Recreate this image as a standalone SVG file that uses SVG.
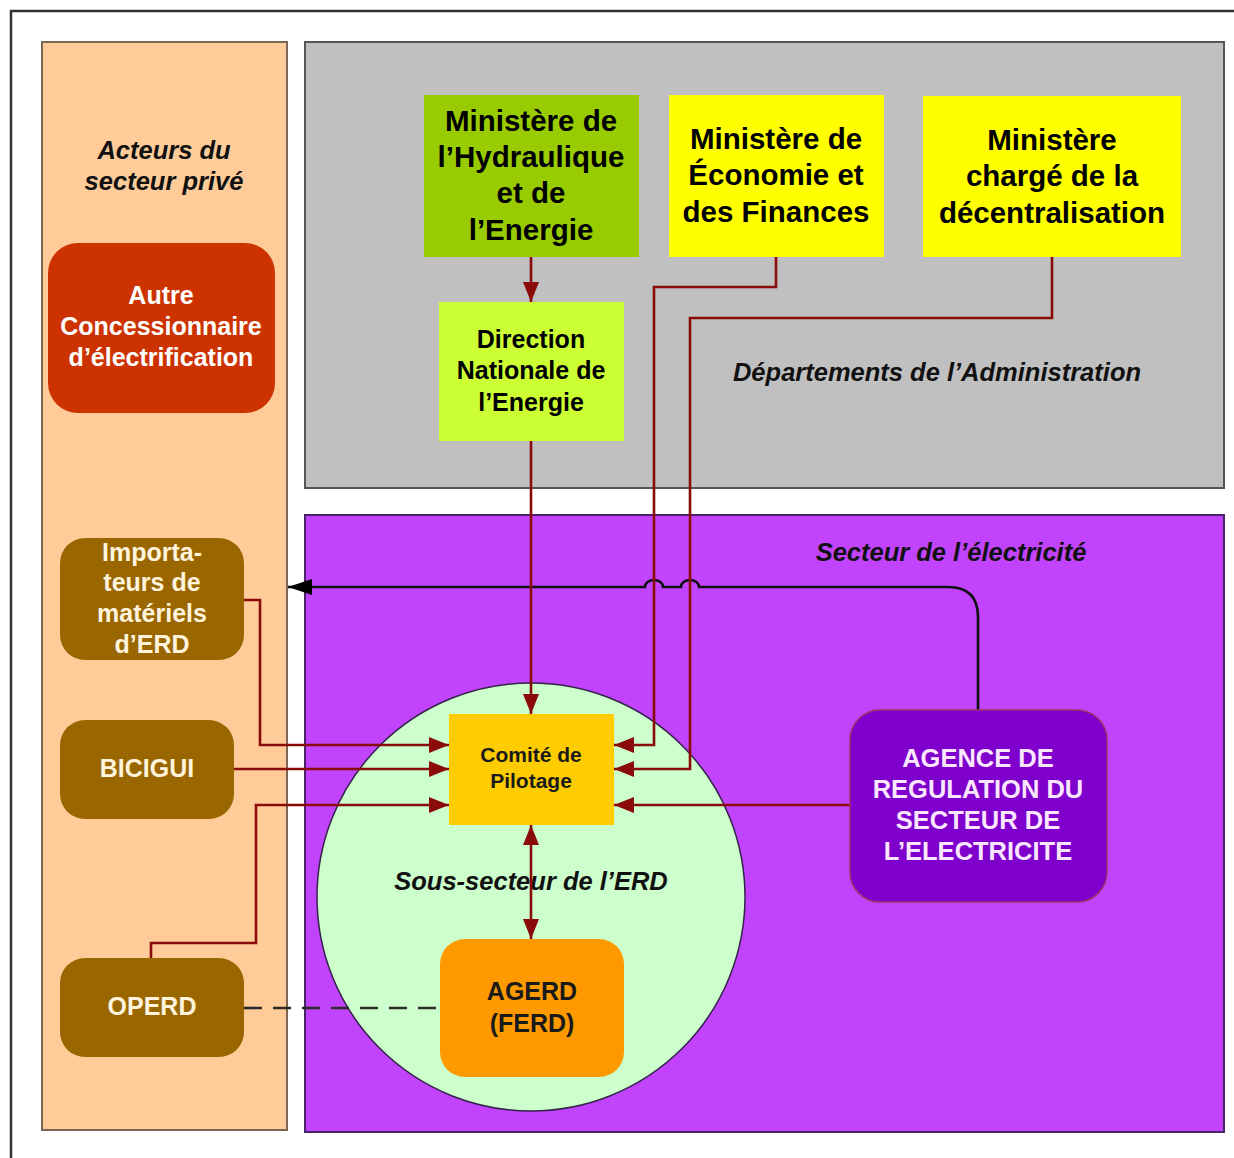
<svg xmlns="http://www.w3.org/2000/svg" width="1234" height="1158" viewBox="0 0 1234 1158">
<defs>
<style>
text{font-family:"Liberation Sans",Arial,sans-serif;font-weight:bold;text-anchor:middle}
.min{font-size:29.5px;fill:#000}
.lbl{font-size:25.5px;fill:#111;font-style:italic}
.w{font-size:25px;fill:#fff}
.cr{font-size:25px;fill:#fff3dc}
.pk{font-size:25.5px;fill:#fbe6ff}
.dk{font-size:25px;fill:#1a1a1a}
.red{fill:none;stroke:#8b0a0a;stroke-width:2.6}
.blk{fill:none;stroke:#111;stroke-width:2.6}
</style>
<marker id="ar" markerUnits="userSpaceOnUse" markerWidth="22" markerHeight="18" refX="20" refY="8" orient="auto-start-reverse" viewBox="0 0 22 18">
<path d="M0,0 L20,8 L0,16 z" fill="#8b0a0a"/>
</marker>
<marker id="ab" markerUnits="userSpaceOnUse" markerWidth="26" markerHeight="18" refX="24" refY="8" orient="auto" viewBox="0 0 26 18">
<path d="M0,0 L24,8 L0,16 z" fill="#000"/>
</marker>
</defs>
<rect width="1234" height="1158" fill="#fff"/>
<rect x="11" y="11" width="1250" height="1170" fill="none" stroke="#333" stroke-width="2.5"/>

<g id="panel-prive">
<rect x="42" y="42" width="245" height="1088" fill="#ffcc99" stroke="#7a6656" stroke-width="2"/>
<text class="lbl" x="164" y="159">Acteurs du</text>
<text class="lbl" x="164" y="190">secteur privé</text>
</g>
<g id="panel-admin">
<rect x="305" y="42" width="919" height="446" fill="#c0c0c0" stroke="#555" stroke-width="2"/>
<text class="lbl" x="937" y="381">Départements de l’Administration</text>
</g>
<g id="panel-elec">
<rect x="305" y="515" width="919" height="617" fill="#c143fc" stroke="#4a2366" stroke-width="2"/>
<text class="lbl" x="951" y="561">Secteur de l’électricité</text>
</g>
<g id="sous-secteur">
<circle cx="531" cy="897" r="214" fill="#ccffcc" stroke="#33224a" stroke-width="1.5"/>
<text class="lbl" x="531" y="890">Sous-secteur de l’ERD</text>
</g>

<g id="connectors">
<path class="blk" d="M978,710 L978,617 Q978,587 948,587 L699,587 a9,7 0 0 0 -18,0 L663,587 a9,7 0 0 0 -18,0 L288,587" marker-end="url(#ab)"/>
<path class="red" d="M531,257 L531,302" marker-end="url(#ar)"/>
<path class="red" d="M531,441 L531,714" marker-end="url(#ar)"/>
<path class="red" d="M776,257 L776,287 L654,287 L654,745 L614,745" marker-end="url(#ar)"/>
<path class="red" d="M1052,257 L1052,318 L690,318 L690,769 L614,769" marker-end="url(#ar)"/>
<path class="red" d="M244,600 L260,600 L260,745 L449,745" marker-end="url(#ar)"/>
<path class="red" d="M234,769 L449,769" marker-end="url(#ar)"/>
<path class="red" d="M151,958 L151,943 L256,943 L256,805 L449,805" marker-end="url(#ar)"/>
<path class="red" d="M850,805 L614,805" marker-end="url(#ar)"/>
<path class="red" d="M531,825 L531,939" marker-start="url(#ar)" marker-end="url(#ar)"/>
<path d="M244,1008 L440,1008" fill="none" stroke="#2a2a2a" stroke-width="2.6" stroke-dasharray="18,11"/>
</g>

<g id="min-hydraulique">
<rect x="424" y="95" width="215" height="162" fill="#99cc00"/>
<text class="min" x="531" y="131">Ministère de</text>
<text class="min" x="531" y="167">l’Hydraulique</text>
<text class="min" x="531" y="203">et de</text>
<text class="min" x="531" y="240">l’Energie</text>
</g>
<g id="min-economie">
<rect x="669" y="95" width="215" height="162" fill="#ffff00"/>
<text class="min" x="776" y="149">Ministère de</text>
<text class="min" x="776" y="185">Économie et</text>
<text class="min" x="776" y="222">des Finances</text>
</g>
<g id="min-decentralisation">
<rect x="923" y="96" width="258" height="161" fill="#ffff00"/>
<text class="min" x="1052" y="150">Ministère</text>
<text class="min" x="1052" y="186">chargé de la</text>
<text class="min" x="1052" y="223">décentralisation</text>
</g>
<g id="dne">
<rect x="439" y="302" width="185" height="139" fill="#ccff33"/>
<text class="dk" x="531" y="348" style="fill:#000">Direction</text>
<text class="dk" x="531" y="379" style="fill:#000">Nationale de</text>
<text class="dk" x="531" y="411" style="fill:#000">l’Energie</text>
</g>
<g id="autre-concessionnaire">
<rect x="48" y="243" width="227" height="170" rx="30" fill="#cc3300"/>
<text class="w" x="161" y="304">Autre</text>
<text class="w" x="161" y="335">Concessionnaire</text>
<text class="w" x="161" y="366">d’électrification</text>
</g>
<g id="importateurs">
<rect x="60" y="538" width="184" height="122" rx="25" fill="#996600"/>
<text class="cr" x="152" y="561">Importa-</text>
<text class="cr" x="152" y="591">teurs de</text>
<text class="cr" x="152" y="622">matériels</text>
<text class="cr" x="152" y="653">d’ERD</text>
</g>
<g id="bicigui">
<rect x="60" y="720" width="174" height="99" rx="25" fill="#996600"/>
<text class="cr" x="147" y="777">BICIGUI</text>
</g>
<g id="operd">
<rect x="60" y="958" width="184" height="99" rx="25" fill="#996600"/>
<text class="cr" x="152" y="1015">OPERD</text>
</g>
<g id="comite">
<rect x="449" y="714" width="165" height="111" fill="#ffcc00"/>
<text class="dk" x="531" y="762" style="font-size:21px">Comité de</text>
<text class="dk" x="531" y="788" style="font-size:21px">Pilotage</text>
</g>
<g id="agerd">
<rect x="440" y="939" width="184" height="138" rx="25" fill="#ff9900"/>
<text class="dk" x="532" y="1000">AGERD</text>
<text class="dk" x="532" y="1032">(FERD)</text>
</g>
<g id="agence">
<rect x="850" y="710" width="257" height="192" rx="30" fill="#7f00cc" stroke="#a0306a" stroke-width="1.5"/>
<text class="pk" x="978" y="767">AGENCE DE</text>
<text class="pk" x="978" y="798">REGULATION DU</text>
<text class="pk" x="978" y="829">SECTEUR DE</text>
<text class="pk" x="978" y="860">L’ELECTRICITE</text>
</g>
</svg>
